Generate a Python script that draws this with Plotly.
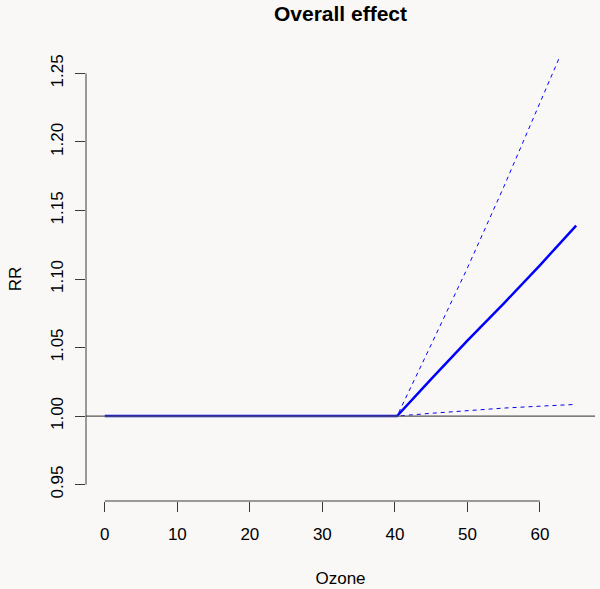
import plotly.graph_objects as go

# Data
ozone = [0, 10, 20, 30, 40.3, 45, 50, 55, 60, 65]
rr = [1.0, 1.0, 1.0, 1.0, 1.0, 1.027, 1.055, 1.082, 1.110, 1.139]
rr_high = [1.0, 1.0, 1.0, 1.0, 1.0, 1.052, 1.108, 1.167, 1.228, 1.290]
rr_low = [1.0, 1.0, 1.0, 1.0, 1.0, 1.002, 1.004, 1.0058, 1.0072, 1.0085]
ref_value = 1.0
x_ticks = [0, 10, 20, 30, 40, 50, 60]
y_ticks = [0.95, 1.00, 1.05, 1.10, 1.15, 1.20, 1.25]
y_labels = ["0.95", "1.00", "1.05", "1.10", "1.15", "1.20", "1.25"]

x_min, x_max = min(ozone), max(ozone)
y_min, y_max = 0.95, 1.25
xpad = 0.04 * (x_max - x_min)
ypad = 0.04 * (y_max - y_min)

bg = "#FAF8F6"
axis_col = "#3a3a3a"
font = "Liberation Sans, Arial, Helvetica, sans-serif"

fig = go.Figure()
# reference line at RR=1 spanning the full plot region
fig.add_hline(y=ref_value, line=dict(color="#555555", width=1.3))

fig.add_trace(go.Scatter(x=ozone, y=rr_high, mode="lines",
                         line=dict(color="#0000FF", width=1, dash="4px,4px"),
                         showlegend=False, hoverinfo="skip"))
fig.add_trace(go.Scatter(x=ozone, y=rr_low, mode="lines",
                         line=dict(color="#0000FF", width=1, dash="4px,4px"),
                         showlegend=False, hoverinfo="skip"))
fig.add_trace(go.Scatter(x=ozone, y=rr, mode="lines",
                         line=dict(color="#0000FF", width=2.5),
                         showlegend=False))

# R-style axis lines spanning only the tick range
fig.add_shape(type="line", xref="x", yref="paper", x0=x_ticks[0], x1=x_ticks[-1],
              y0=0, y1=0, line=dict(color=axis_col, width=1))
fig.add_shape(type="line", xref="paper", yref="y", x0=0, x1=0,
              y0=y_ticks[0], y1=y_ticks[-1], line=dict(color=axis_col, width=1))

fig.update_layout(
    width=600, height=589,
    paper_bgcolor=bg, plot_bgcolor=bg,
    margin=dict(l=86, r=5, t=57, b=88),
    font=dict(family=font, size=17, color="#000000"),
    title=dict(text="<b>Overall effect</b>", x=0.5, xref="paper",
               y=1 - 14 / 589, yanchor="middle",
               font=dict(size=21, family=font, color="#000000")),
    xaxis=dict(range=[x_min - xpad, x_max + xpad], tickvals=x_ticks,
               ticks="outside", ticklen=10, tickcolor=axis_col, tickwidth=1,
               showgrid=False, zeroline=False, showline=False,
               ticklabelstandoff=8,
               title=dict(text="Ozone", standoff=28, font=dict(size=17))),
    yaxis=dict(range=[y_min - ypad, y_max + ypad], tickvals=y_ticks, ticktext=y_labels,
               ticks="outside", ticklen=10, tickcolor=axis_col, tickwidth=1,
               tickangle=-90,
               showgrid=False, zeroline=False, showline=False,
               ticklabelstandoff=5,
               title=dict(text="RR", standoff=22, font=dict(size=17))),
)

fig.write_html(
    "out.html",
    config={"displayModeBar": False},
    post_script="document.body.style.margin='0px';document.body.style.overflow='hidden';document.body.style.background='" + bg + "';",
)
